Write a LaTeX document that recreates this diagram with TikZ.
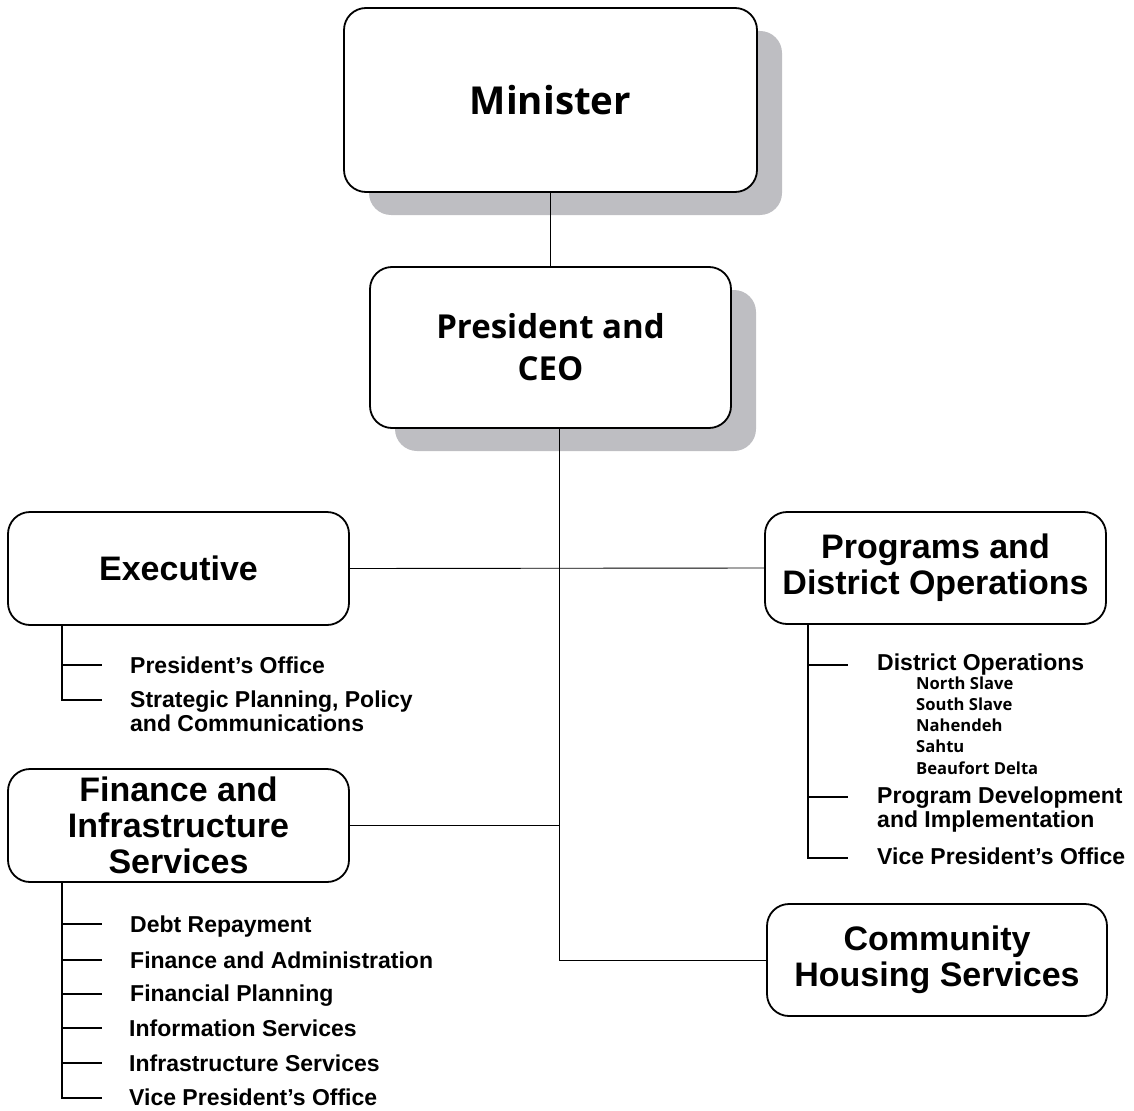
\documentclass[tikz,border=0pt]{standalone}
\usepackage{fontspec}
\setmainfont{Liberation Sans}
\newfontfamily\osans{Open Sans}
\usetikzlibrary{shadows}
\definecolor{shadowgray}{RGB}{190,190,194}
\begin{document}
\begin{tikzpicture}[x=1pt,y=-1pt,
 box/.style={draw, line width=1.8pt, rounded corners=22pt, fill=white, align=center, inner sep=0pt},
 shbox/.style={box, drop shadow={shadow xshift=25pt, shadow yshift=-23pt, fill=shadowgray, opacity=1}},
 conn/.style={line width=0.9pt},
 sub/.style={line width=1.8pt},
 title/.style={font=\fontsize{34}{36}\selectfont\bfseries},
 item/.style={anchor=base west, inner sep=0pt, align=left, font=\fontsize{23}{24}\selectfont\bfseries},
 small/.style={anchor=base west, inner sep=0pt, font=\osans\fontsize{16.6}{21}\selectfont\bfseries},
]
\useasboundingbox (0,0) rectangle (1134,1110);
% main boxes
\node[shbox, minimum width=413pt, minimum height=184pt, font=\osans\fontsize{38.5}{40}\selectfont\bfseries] (min) at (550.5,100) {Minister};
\node[shbox, minimum width=361pt, minimum height=161pt, font=\osans\fontsize{33}{42}\selectfont\bfseries] (pres) at (550.5,347.5) {President and\\CEO};
\node[box, minimum width=341pt, minimum height=113pt, title] (exe) at (178.5,568.5) {Executive};
\node[box, minimum width=341pt, minimum height=112pt, title] (prog) at (935.5,568) {Programs and\\District Operations};
\node[box, minimum width=341pt, minimum height=113pt, title] (fin) at (178.5,825.5) {Finance and\\Infrastructure\\Services};
\node[box, minimum width=340pt, minimum height=112pt, title] (chs) at (937,960) {Community\\Housing Services};
% trunk
\coordinate (trunk) at (559,960);
\draw[conn] (min.south) -- (pres.north);
\draw[conn] (pres.south -| trunk) |- (chs.west);
\draw[conn] (exe.east) -- (prog.west);
\draw[conn] (fin.east) -- (fin.east -| trunk);
% Executive items
\node[item] (e1) at (130,673) {President’s Office};
\node[item] (e2) at (130,731) {Strategic Planning, Policy\\and Communications};
\coordinate (et1) at (102,665);
\coordinate (et2) at (102,700);
\coordinate (ev) at (62,0);
\draw[sub] (exe.south -| ev) |- (et2);
\draw[sub] (et1 -| ev) -- (et1);
% Programs items
\node[item] (p1) at (877,670) {District Operations};
\node[small] (d1) at (916,689) {North Slave};
\node[small] (d2) at (916,710) {South Slave};
\node[small] (d3) at (916,731) {Nahendeh};
\node[small] (d4) at (916,752) {Sahtu};
\node[small] (d5) at (916,774) {Beaufort Delta};
\node[item] (p2) at (877,827) {Program Development\\and Implementation};
\node[item] (p3) at (877,864) {Vice President’s Office};
\coordinate (pt1) at (848,665);
\coordinate (pt2) at (848,797);
\coordinate (pt3) at (848,858);
\coordinate (pv) at (808,0);
\draw[sub] (prog.south -| pv) |- (pt3);
\draw[sub] (pt1 -| pv) -- (pt1);
\draw[sub] (pt2 -| pv) -- (pt2);
% Finance items
\node[item] (f1) at (130,932) {Debt Repayment};
\node[item] (f2) at (130,968) {Finance and Administration};
\node[item] (f3) at (130,1001) {Financial Planning};
\node[item] (f4) at (129,1036) {Information Services};
\node[item] (f5) at (129,1071) {Infrastructure Services};
\node[item] (f6) at (129,1105) {Vice President’s Office};
\coordinate (ft1) at (102,924);
\coordinate (ft2) at (102,960);
\coordinate (ft3) at (102,994);
\coordinate (ft4) at (102,1028);
\coordinate (ft5) at (102,1063);
\coordinate (ft6) at (102,1098);
\draw[sub] (fin.south -| ev) |- (ft6);
\foreach \t in {ft1,ft2,ft3,ft4,ft5} \draw[sub] (\t -| ev) -- (\t);
\end{tikzpicture}
\end{document}
